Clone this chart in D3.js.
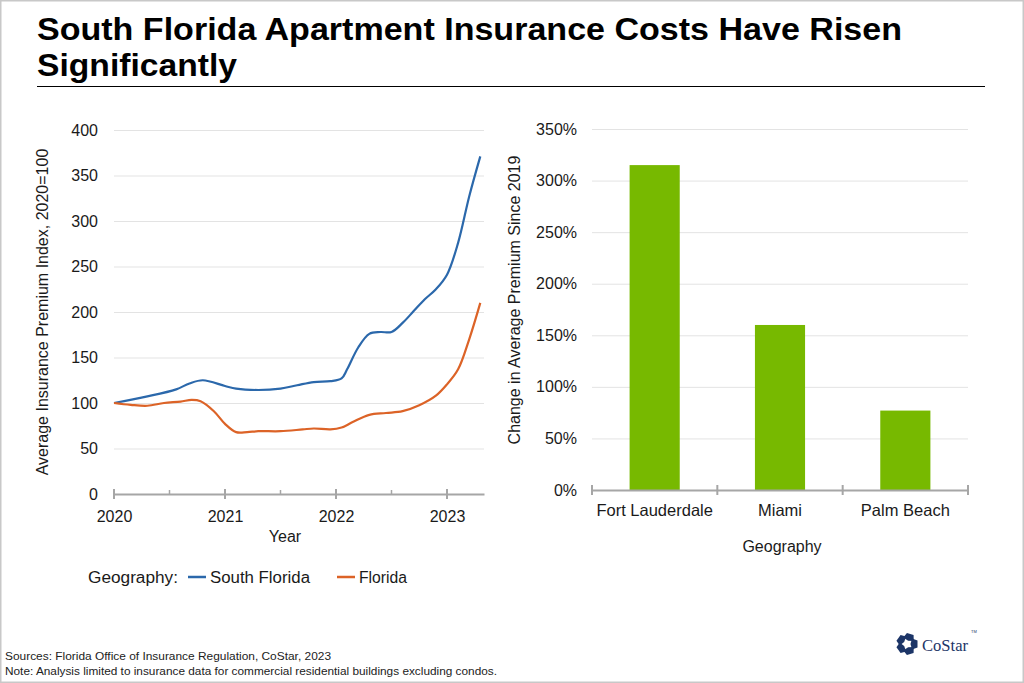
<!DOCTYPE html>
<html>
<head>
<meta charset="utf-8">
<script src="https://cdn.jsdelivr.net/npm/d3@7"></script>
<style>
  html, body { margin: 0; padding: 0; background: #fff; }
  svg { display: block; font-family: "Liberation Sans", Arial, sans-serif; }
</style>
</head>
<body>
<svg id="chart" width="1024" height="683"></svg>
<script>
// ---- Data ----
const titleLines = ["South Florida Apartment Insurance Costs Have Risen", "Significantly"];

const sfYears = [2020.0, 2020.29, 2020.56, 2020.68, 2020.8, 2021.0, 2021.1, 2021.3, 2021.5, 2021.65, 2021.8, 2021.95, 2022.05, 2022.1, 2022.2, 2022.3, 2022.4, 2022.5, 2022.6, 2022.7, 2022.8, 2022.9, 2023.0, 2023.1, 2023.2, 2023.3];
const sfValues = [100, 107, 115, 121.5, 125, 118.7, 115.8, 114.3, 115.8, 119.5, 123, 124, 127, 137, 161, 176, 178, 178, 188, 201, 214, 225, 241, 276, 327, 371];

const flYears = [2020.0, 2020.15, 2020.3, 2020.45, 2020.6, 2020.7, 2020.78, 2020.9, 2021.0, 2021.1, 2021.2, 2021.3, 2021.5, 2021.7, 2021.8, 2021.95, 2022.05, 2022.15, 2022.3, 2022.45, 2022.6, 2022.75, 2022.9, 2023.0, 2023.1, 2023.2, 2023.3];
const flValues = [100, 98, 97, 100, 101.6, 103.4, 102, 91, 77, 68, 68, 69, 69, 71, 72, 71, 73, 79, 87, 89, 91, 97.5, 108, 120.5, 137, 170, 210];

const yearTicks = [2020, 2021, 2022, 2023];
const halfYearTicks = [2020.5, 2021.5, 2022.5];
const indexTicks = [0, 50, 100, 150, 200, 250, 300, 350, 400];

const barCategories = ["Fort Lauderdale", "Miami", "Palm Beach"];
const barValues = [3.15, 1.60, 0.77];
const pctTicks = [0, 0.5, 1.0, 1.5, 2.0, 2.5, 3.0, 3.5];

const seriesNames = ["South Florida", "Florida"];
const seriesColors = ["#2b68ab", "#dc6327"];
const barColor = "#77b900";

const sourceText = "Sources: Florida Office of Insurance Regulation,  CoStar, 2023";
const noteText = "Note: Analysis limited to insurance data for commercial residential buildings excluding condos.";

// ---- Drawing ----
const svg = d3.select("#chart");
const gridColor = "#e3e3e3";
const axisColor = "#a6a6a6";
const textColor = "#1a1a1a";

// border
svg.append("rect").attr("x", 0.5).attr("y", 0.5).attr("width", 1023).attr("height", 682)
  .attr("fill", "#fff").attr("stroke", "#c8c8c8").attr("stroke-width", 2);

// title
svg.append("text").attr("x", 37).attr("y", 40).attr("font-size", 32).attr("font-weight", "bold")
  .attr("fill", "#000").attr("textLength", 865).attr("lengthAdjust", "spacingAndGlyphs").text(titleLines[0]);
svg.append("text").attr("x", 37).attr("y", 76).attr("font-size", 32).attr("font-weight", "bold")
  .attr("fill", "#000").attr("textLength", 200).attr("lengthAdjust", "spacingAndGlyphs").text(titleLines[1]);
svg.append("line").attr("x1", 37).attr("x2", 985).attr("y1", 86.5).attr("y2", 86.5)
  .attr("stroke", "#000").attr("stroke-width", 1.2);

// ---- Left line chart ----
const x = d3.scaleLinear().domain([2020, 2023 + 1/3]).range([114, 484]);
const y = d3.scaleLinear().domain([0, 400]).range([494, 130]);

const left = svg.append("g");
left.selectAll("line.grid").data(indexTicks.filter(d => d > 0)).join("line")
  .attr("class", "grid").attr("x1", x.range()[0]).attr("x2", x.range()[1])
  .attr("y1", d => y(d) + 0.5).attr("y2", d => y(d) + 0.5)
  .attr("stroke", gridColor).attr("stroke-width", 1);

// y axis labels
const yAxis = d3.axisLeft(y).tickValues(indexTicks).tickSize(0).tickPadding(0);
const yg = left.append("g").attr("transform", "translate(98,0)").call(yAxis);
yg.select(".domain").remove();
yg.selectAll("text").attr("font-size", 16).attr("fill", textColor)
  .attr("font-family", "Liberation Sans, Arial, sans-serif");

// x axis
const xAxis = d3.axisBottom(x).tickValues(yearTicks).tickFormat(d3.format("d")).tickSize(0).tickPadding(17);
const xg = left.append("g").attr("transform", `translate(0,${y(0)})`).call(xAxis);
xg.select(".domain").attr("stroke", axisColor).attr("stroke-width", 2);
xg.selectAll("text").attr("font-size", 16).attr("fill", textColor)
  .attr("font-family", "Liberation Sans, Arial, sans-serif");
left.selectAll("line.major").data(yearTicks).join("line").attr("class", "major")
  .attr("x1", d => x(d)).attr("x2", d => x(d)).attr("y1", y(0) - 5).attr("y2", y(0) + 5)
  .attr("stroke", axisColor).attr("stroke-width", 2);
left.selectAll("line.minor").data(halfYearTicks).join("line").attr("class", "minor")
  .attr("x1", d => x(d)).attr("x2", d => x(d)).attr("y1", y(0) - 4).attr("y2", y(0))
  .attr("stroke", axisColor).attr("stroke-width", 1.5);

// lines
const lineGen = d3.line().x(d => x(d[0])).y(d => y(d[1])).curve(d3.curveCatmullRom.alpha(0.5));
const seriesData = [d3.zip(sfYears, sfValues), d3.zip(flYears, flValues)];
left.selectAll("path.series").data(seriesData).join("path").attr("class", "series")
  .attr("d", lineGen).attr("fill", "none")
  .attr("stroke", (d, i) => seriesColors[i]).attr("stroke-width", 2.2);

// axis titles
left.append("text").attr("transform", "translate(48,312) rotate(-90)").attr("text-anchor", "middle")
  .attr("font-size", 16).attr("fill", textColor).text("Average Insurance Premium Index, 2020=100");
left.append("text").attr("x", 285).attr("y", 542).attr("text-anchor", "middle")
  .attr("font-size", 16).attr("fill", textColor).text("Year");

// legend
const legend = svg.append("g");
legend.append("text").attr("x", 88).attr("y", 583).attr("font-size", 16).attr("fill", textColor)
  .attr("textLength", 90).attr("lengthAdjust", "spacingAndGlyphs").text("Geography:");
const legX = [188, 337];
const legTextW = [100, 48];
seriesNames.forEach((name, i) => {
  legend.append("line").attr("x1", legX[i]).attr("x2", legX[i] + 18).attr("y1", 577).attr("y2", 577)
    .attr("stroke", seriesColors[i]).attr("stroke-width", 2.5);
  legend.append("text").attr("x", legX[i] + 22).attr("y", 583).attr("font-size", 16).attr("fill", textColor)
    .attr("textLength", legTextW[i]).attr("lengthAdjust", "spacingAndGlyphs").text(name);
});

// ---- Right bar chart ----
const xb = d3.scaleBand().domain(barCategories).range([592, 968]).paddingInner(0.6).paddingOuter(0.3);
const yb = d3.scaleLinear().domain([0, 3.5]).range([490, 129]);
const right = svg.append("g");

right.selectAll("line.grid").data(pctTicks.filter(d => d > 0)).join("line")
  .attr("class", "grid").attr("x1", 592).attr("x2", 968)
  .attr("y1", d => yb(d) + 0.5).attr("y2", d => yb(d) + 0.5)
  .attr("stroke", gridColor).attr("stroke-width", 1);

const ybAxis = d3.axisLeft(yb).tickValues(pctTicks).tickFormat(d3.format(".0%")).tickSize(0).tickPadding(0);
const ybg = right.append("g").attr("transform", "translate(577,0)").call(ybAxis);
ybg.select(".domain").remove();
ybg.selectAll("text").attr("font-size", 16).attr("fill", textColor)
  .attr("font-family", "Liberation Sans, Arial, sans-serif");

right.selectAll("rect.bar").data(barValues).join("rect").attr("class", "bar")
  .attr("x", (d, i) => xb(barCategories[i])).attr("width", xb.bandwidth())
  .attr("y", d => yb(d)).attr("height", d => yb(0) - yb(d)).attr("fill", barColor);

const xbAxis = d3.axisBottom(xb).tickSize(0).tickPadding(14);
const xbg = right.append("g").attr("transform", `translate(0,${yb(0)})`).call(xbAxis);
xbg.select(".domain").attr("stroke", axisColor).attr("stroke-width", 2);
xbg.selectAll("text").attr("font-size", 16.5).attr("fill", textColor)
  .attr("font-family", "Liberation Sans, Arial, sans-serif");
const step = xb.step();
const boundaries = d3.range(barCategories.length + 1).map(i => 592 + i * step);
right.selectAll("line.btick").data(boundaries).join("line").attr("class", "btick")
  .attr("x1", d => d).attr("x2", d => d).attr("y1", yb(0) - 5).attr("y2", yb(0) + 5)
  .attr("stroke", axisColor).attr("stroke-width", 2);

right.append("text").attr("transform", "translate(520,300) rotate(-90)").attr("text-anchor", "middle")
  .attr("font-size", 16).attr("fill", textColor).text("Change in Average Premium Since 2019");
right.append("text").attr("x", 782).attr("y", 552).attr("text-anchor", "middle")
  .attr("font-size", 16).attr("fill", textColor).text("Geography");

// ---- Footer ----
svg.append("text").attr("x", 5).attr("y", 660).attr("font-size", 11.5).attr("fill", "#222")
  .attr("textLength", 326).attr("lengthAdjust", "spacingAndGlyphs").text(sourceText);
svg.append("text").attr("x", 5).attr("y", 675).attr("font-size", 11.5).attr("fill", "#222")
  .attr("textLength", 492).attr("lengthAdjust", "spacingAndGlyphs").text(noteText);

// ---- Logo ----
const logo = svg.append("g").attr("transform", "translate(907,644)");
const logoColor = "#1c3567";
d3.range(5).forEach(i => {
  logo.append("path")
    .attr("d", "M-3.5,-10.5 L3.5,-10.5 L5.5,-5 L0,-3.5 L-5.5,-5 Z")
    .attr("fill", logoColor)
    .attr("transform", `rotate(${i * 72 + 18})`);
});
svg.append("text").attr("x", 922).attr("y", 651)
  .attr("font-family", "Liberation Serif, serif").attr("fill", logoColor)
  .attr("font-size", 17.5).attr("textLength", 46).attr("lengthAdjust", "spacingAndGlyphs").text("CoStar");
svg.append("text").attr("x", 971).attr("y", 633)
  .attr("font-family", "Liberation Sans, sans-serif").attr("font-size", 4).attr("fill", logoColor).text("TM");
</script>
</body>
</html>
